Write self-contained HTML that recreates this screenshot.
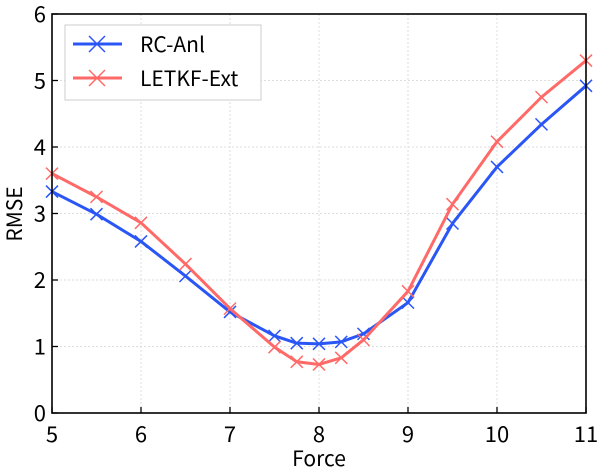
<!DOCTYPE html>
<html><head><meta charset="utf-8"><style>
body{margin:0;background:#fff}
svg text{font-family:"Noto Sans CJK JP","Liberation Sans",sans-serif;fill:#000}
</style></head><body>
<svg id="chart" width="600" height="470" xmlns="http://www.w3.org/2000/svg">
<g id="grid"></g>
<g id="series"></g>
<rect x="52" y="14" width="534" height="399" fill="none" stroke="#000" stroke-width="1.6"/>
<g id="ticks"></g>
<text x="319" y="466" font-size="21" text-anchor="middle">Force</text>
<text transform="translate(22,214) rotate(-90)" font-size="21" text-anchor="middle">RMSE</text>
<g>
<rect x="65" y="25" width="196" height="75" fill="#fff" stroke="#ccc" stroke-width="1"/>
<g>
<line x1="73" y1="44" x2="122" y2="44" stroke="#2a56f5" stroke-width="3"/>
<path d="M89,36 L105,52 M105,36 L89,52" stroke="#2a56f5" stroke-width="1.5"/>
<text x="140" y="52" font-size="21">RC-Anl</text></g>
<g>
<line x1="73" y1="78" x2="122" y2="78" stroke="#ff6a68" stroke-width="3"/>
<path d="M89,70 L105,86 M105,70 L89,86" stroke="#ff6a68" stroke-width="1.5"/>
<text x="140" y="86" font-size="21">LETKF-Ext</text></g>
</g>
</svg>
<script>
const forces=[5,5.5,6,6.5,7,7.5,7.75,8,8.25,8.5,9,9.5,10,10.5,11];
const rcAnl=[3.33,2.99,2.58,2.06,1.52,1.16,1.05,1.04,1.07,1.19,1.66,2.85,3.70,4.34,4.92];
const letkfExt=[3.60,3.25,2.86,2.24,1.57,0.99,0.77,0.73,0.83,1.10,1.83,3.14,4.08,4.75,5.30];
const xTicks=[5,6,7,8,9,10,11];
const yTicks=[0,1,2,3,4,5,6];
const NS="http://www.w3.org/2000/svg";
const X=v=>52+(v-5)*534/6, Y=v=>413-v*399/6;
function mk(t,a,p){const e=document.createElementNS(NS,t);for(const k in a)e.setAttribute(k,a[k]);p.appendChild(e);return e;}
const grid=document.getElementById('grid'),ticks=document.getElementById('ticks'),ser=document.getElementById('series');
xTicks.forEach(v=>{
 const g=mk('line',{x1:X(v),x2:X(v),y1:14,y2:413,stroke:'#ddd','stroke-dasharray':'2,2'},grid);
 
 
 const t=mk('line',{x1:X(v),x2:X(v),y1:413,y2:407,stroke:'#000','stroke-width':1.3},ticks);
 
 
 const l=mk('text',{x:X(v),y:442,'font-size':22,'text-anchor':'middle'},ticks);l.textContent=v;
 
 
});
yTicks.forEach(v=>{
 const g=mk('line',{x1:52,x2:586,y1:Y(v),y2:Y(v),stroke:'#ddd','stroke-dasharray':'2,2'},grid);
 
 
 const t=mk('line',{x1:52,x2:58,y1:Y(v),y2:Y(v),stroke:'#000','stroke-width':1.3},ticks);
 
 
 const l=mk('text',{x:46,y:Y(v)+8,'font-size':22,'text-anchor':'end'},ticks);l.textContent=v;
 
 
});
function draw(vals,color,name){
 const g=mk('g',{},ser);
 
 
 const p=mk('polyline',{points:forces.map((f,i)=>X(f)+','+Y(vals[i])).join(' '),fill:'none',stroke:color,'stroke-width':3,'stroke-linejoin':'round'},g);
 
 
 forces.forEach((f,i)=>{const x=X(f),y=Y(vals[i]),s=6;
  const m=mk('path',{d:`M${x-s},${y-s}L${x+s},${y+s}M${x+s},${y-s}L${x-s},${y+s}`,stroke:color,'stroke-width':1.5},g);
  
  
 });
}
draw(rcAnl,'#2a56f5','rc-anl');
draw(letkfExt,'#ff6a68','letkf-ext');
</script>
</body></html>
